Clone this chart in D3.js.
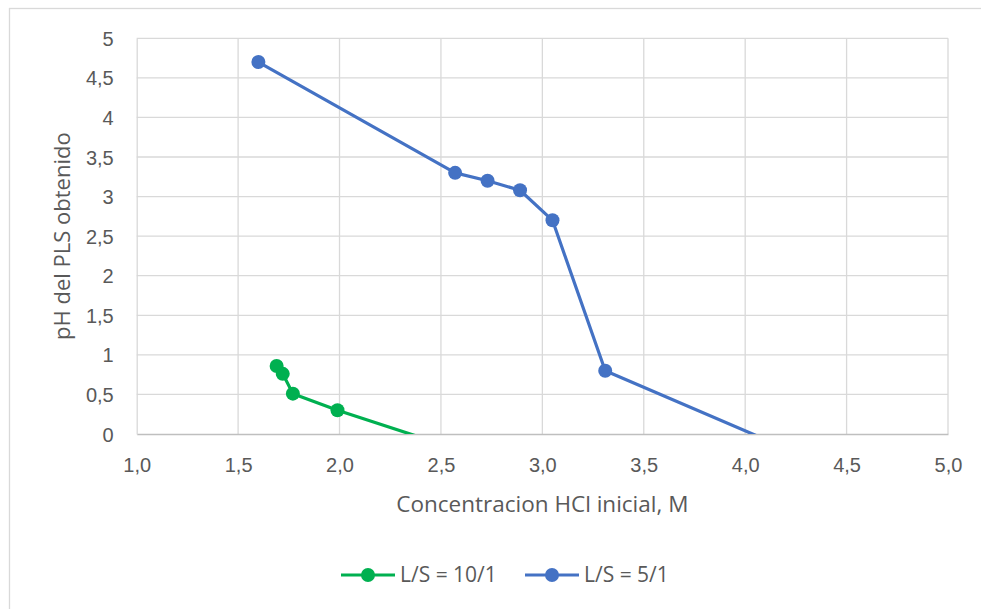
<!DOCTYPE html>
<html>
<head>
<meta charset="utf-8">
<script src="https://cdn.jsdelivr.net/npm/d3@7"></script>
<style>
  html, body { margin: 0; padding: 0; background: #fff; }
  svg { display: block; font-family: "Open Sans", Lato, sans-serif; }
</style>
</head>
<body>
<svg id="chart" width="981" height="609"></svg>
<script>
// Axis ticks
const xTicks = [1.0, 1.5, 2.0, 2.5, 3.0, 3.5, 4.0, 4.5, 5.0];
const yTicks = [0, 0.5, 1, 1.5, 2, 2.5, 3, 3.5, 4, 4.5, 5];

// Series: initial HCl concentration (M) vs. pH of the PLS
const seriesNames = ["L/S = 10/1", "L/S = 5/1"];
const greenX = [1.69, 1.72, 1.77, 1.99, 2.60];
const greenY = [0.86, 0.76, 0.51, 0.30, -0.21];
const blueX = [1.60, 2.57, 2.73, 2.89, 3.05, 3.31, 4.50];
const blueY = [4.70, 3.30, 3.20, 3.08, 2.70, 0.80, -0.51];

const colors = ["#00B050", "#4472C4"];
const series = [
  { name: seriesNames[0], color: colors[0], pts: greenX.map((x, i) => ({ x, y: greenY[i] })) },
  { name: seriesNames[1], color: colors[1], pts: blueX.map((x, i) => ({ x, y: blueY[i] })) }
];

const svg = d3.select("#chart");
const W = 981, H = 609;
const plot = { left: 136.7, right: 948, top: 38.3, bottom: 434 };

// Chart frame
svg.append("rect")
  .attr("x", 9.5).attr("y", 8.5)
  .attr("width", W).attr("height", H)
  .attr("fill", "#fff").attr("stroke", "#d9d9d9").attr("stroke-width", 1.3);

const x = d3.scaleLinear().domain([1, 5]).range([plot.left, plot.right]);
const y = d3.scaleLinear().domain([0, 5]).range([plot.bottom, plot.top]);

const fmt = d => d3.format(".1f")(d).replace(".", ",");
const fmtY = d => String(d).replace(".", ",");

// Gridlines
const grid = svg.append("g");
grid.selectAll("line.v").data(xTicks.slice(1)).join("line")
  .attr("x1", d => x(d)).attr("x2", d => x(d))
  .attr("y1", plot.top).attr("y2", plot.bottom)
  .attr("stroke", "#d9d9d9").attr("stroke-width", 1.3);
grid.selectAll("line.h").data(yTicks.slice(1)).join("line")
  .attr("x1", plot.left).attr("x2", plot.right)
  .attr("y1", d => y(d)).attr("y2", d => y(d))
  .attr("stroke", "#d9d9d9").attr("stroke-width", 1.3);

// Axes
const xAxis = svg.append("g")
  .attr("transform", `translate(0,${plot.bottom})`)
  .call(d3.axisBottom(x).tickValues(xTicks).tickFormat(fmt).tickSize(0).tickPadding(0));
xAxis.select(".domain").attr("stroke", "#bfbfbf").attr("stroke-width", 1.3);
xAxis.selectAll("text")
  .attr("dy", null).attr("y", 38)
  .attr("fill", "#595959").style("font-size", "20px");

const yAxis = svg.append("g")
  .attr("transform", `translate(${plot.left},0)`)
  .call(d3.axisLeft(y).tickValues(yTicks).tickFormat(fmtY).tickSize(0).tickPadding(0));
yAxis.select(".domain").attr("stroke", "#d9d9d9").attr("stroke-width", 1.3);
yAxis.selectAll("text")
  .attr("x", -23).attr("dy", "0.35em")
  .attr("fill", "#595959").style("font-size", "20px");

// Axis titles
svg.append("text")
  .attr("x", (plot.left + plot.right) / 2).attr("y", 512)
  .attr("text-anchor", "middle").attr("fill", "#595959")
  .style("font-size", "22.5px")
  .text("Concentracion HCl inicial, M");

svg.append("text")
  .attr("transform", `translate(70,${(plot.top + plot.bottom) / 2}) rotate(-90)`)
  .attr("text-anchor", "middle").attr("fill", "#595959")
  .style("font-size", "22px")
  .text("pH del PLS obtenido");

// Plot-area clipping
svg.append("clipPath").attr("id", "plotClip")
  .append("rect")
  .attr("x", plot.left).attr("y", plot.top - 10)
  .attr("width", plot.right - plot.left).attr("height", plot.bottom - plot.top + 10);

const marks = svg.append("g").attr("clip-path", "url(#plotClip)");
const line = d3.line().x(d => x(d.x)).y(d => y(d.y));

series.forEach(s => {
  marks.append("path")
    .datum(s.pts)
    .attr("d", line)
    .attr("fill", "none").attr("stroke", s.color)
    .attr("stroke-width", 3.2).attr("stroke-linejoin", "round");
  marks.selectAll(null).data(s.pts).join("circle")
    .attr("cx", d => x(d.x)).attr("cy", d => y(d.y))
    .attr("r", 7).attr("fill", s.color);
});

// Legend
const legendX = [341, 525];
const legend = svg.append("g");
series.forEach((s, i) => {
  const g = legend.append("g").attr("transform", `translate(${legendX[i]},575)`);
  g.append("line").attr("x1", 0).attr("x2", 54).attr("y1", 0).attr("y2", 0)
    .attr("stroke", s.color).attr("stroke-width", 3.2);
  g.append("circle").attr("cx", 27).attr("cy", 0).attr("r", 7).attr("fill", s.color);
  g.append("text").attr("x", 59).attr("dy", "0.35em")
    .attr("fill", "#595959").style("font-size", "21px")
    .text(s.name);
});
</script>
</body>
</html>
